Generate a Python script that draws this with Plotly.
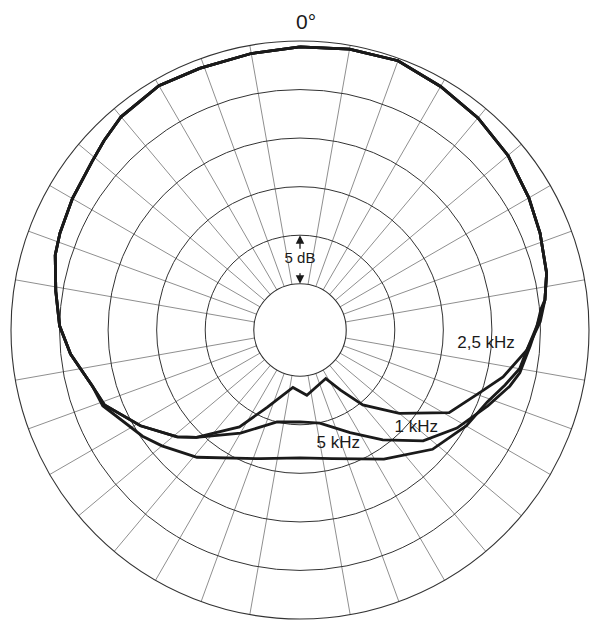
import plotly.graph_objects as go

# Polar response of the microphone.
# Angles in degrees (0 = front, clockwise), levels in dB relative to the outer ring.

# front half is the same for all three frequencies
FRONT_RIGHT_ANGLES = [0, 10, 20, 30, 40, 50, 60, 68, 77, 83]
FRONT_RIGHT_DB = [-0.6, -0.4, -0.25, -0.8, -1.25, -1.8, -2.55, -3.1, -3.7, -4.35]

FRONT_LEFT_ANGLES = [255, 264, 271, 279, 287, 292, 300, 309, 314, 320, 330, 339, 350, 360]
FRONT_LEFT_DB = [-7.6, -6.0, -5.0, -4.3, -3.4, -3.1, -2.7, -2.2, -1.7, -1.1, -0.7, -0.9, -0.85, -0.6]

# rear half, one per frequency
REAR_1K_ANGLES = [88, 94, 101, 105, 112, 122, 132, 143, 154, 168, 180, 194, 210, 224, 229, 239, 249]
REAR_1K_DB = [-5.2, -6.0, -6.7, -7.4, -8.9, -10.7, -12.7, -15.6, -18.0, -19.95, -20.3, -20.0,
              -17.5, -14.4, -13.0, -10.6, -8.2]

REAR_2K5_ANGLES = [88, 95, 103, 109, 119, 130, 140, 146, 152, 174, 187, 203, 212, 224, 229, 239, 249]
REAR_2K5_DB = [-5.0, -6.3, -8.3, -10.1, -12.2, -16.4, -19.7, -22.3, -24.1, -23.0, -23.8, -21.1,
               -18.0, -14.4, -13.0, -10.6, -8.2]

REAR_5K_ANGLES = [85, 89, 95, 100, 105, 111, 120, 132, 147, 166, 180, 197, 219, 230, 236, 249]
REAR_5K_DB = [-4.85, -5.35, -6.3, -6.8, -7.9, -9.1, -10.0, -11.4, -13.9, -16.1, -16.6, -15.9,
              -12.9, -11.2, -10.2, -8.0]

# curve labels placed in the chart's own polar coordinates
LABEL_TEXT = ['2,5 kHz', '1 kHz', '5 kHz', '5 dB']
LABEL_ANGLES = [94.3, 130.1, 161.4, 0]
LABEL_DB = [-10.55, -14.1, -17.4, -22.5]
LABEL_SIZES = [17, 17, 17, 15]

DB_MIN = -25
DB_MAX = 0
DB_STEP = 5
HOLE = 0.16

FONT = 'Liberation Sans, Arial, sans-serif'


def full_curve(rear_angles: list, rear_db: list) -> tuple:
    """Join the shared front half with one rear half into a closed curve."""
    angles = FRONT_RIGHT_ANGLES + rear_angles + FRONT_LEFT_ANGLES
    levels = FRONT_RIGHT_DB + rear_db + FRONT_LEFT_DB
    return angles, levels


def paper_y(level: float) -> float:
    """Paper y of a level on the 0 degree spoke (the polar area is square)."""
    frac = HOLE + (1 - HOLE) * (level - DB_MIN) / (DB_MAX - DB_MIN)
    return 0.5 + 0.5 * frac


fig = go.Figure()

for name, ang, lev in [('1 kHz', REAR_1K_ANGLES, REAR_1K_DB),
                       ('2,5 kHz', REAR_2K5_ANGLES, REAR_2K5_DB),
                       ('5 kHz', REAR_5K_ANGLES, REAR_5K_DB)]:
    theta, r = full_curve(ang, lev)
    fig.add_trace(go.Scatterpolar(r=r, theta=theta, mode='lines', name=name,
                                  line=dict(color='#1a1a1a', width=2.8),
                                  subplot='polar2', hoverinfo='skip'))

fig.add_trace(go.Scatterpolar(r=LABEL_DB, theta=LABEL_ANGLES, mode='text', text=LABEL_TEXT,
                              textfont=dict(family=FONT, size=LABEL_SIZES, color='#1a1a1a'),
                              subplot='polar2', hoverinfo='skip'))

ring_vals = list(range(DB_MIN, DB_MAX, DB_STEP))
spokes = [a for a in range(0, 360, 10) if a % 90 != 0]

common_radial = dict(range=[DB_MIN, DB_MAX], showticklabels=False, ticks='', showline=False)
common_angular = dict(rotation=90, direction='clockwise', showticklabels=False, ticks='')

fig.update_layout(
    width=600, height=630,
    margin=dict(l=11, r=11, t=41, b=11),
    paper_bgcolor='white',
    showlegend=False,
    # bottom layer: the light cross through 0/90/180/270
    polar=dict(bgcolor='white', hole=HOLE,
               radialaxis=dict(showgrid=False, **common_radial),
               angularaxis=dict(tickmode='array', tickvals=[0, 90, 180, 270],
                                gridcolor='#c6c6c6', gridwidth=2, showline=False,
                                **common_angular)),
    # top layer: 10 degree spokes, 5 dB rings and the curves
    polar2=dict(bgcolor='rgba(0,0,0,0)', hole=HOLE,
                radialaxis=dict(tickmode='array', tickvals=ring_vals, gridcolor='#333333',
                                gridwidth=1.1, **common_radial),
                angularaxis=dict(tickmode='array', tickvals=spokes, gridcolor='#8f8f8f',
                                 gridwidth=1, showline=True, linecolor='#333333',
                                 linewidth=1.1, **common_angular)),
    annotations=[
        dict(text='0°', x=0.5, y=1.0, xref='paper', yref='paper', xanchor='center',
             yanchor='bottom', xshift=6, yshift=6, showarrow=False,
             font=dict(family=FONT, size=21, color='#1a1a1a')),
        # arrows of the 5 dB scale mark
        dict(text='', x=0.5, y=paper_y(DB_MIN + DB_STEP), xref='paper', yref='paper',
             showarrow=True, ax=0, ay=15, arrowhead=2, arrowsize=1.3, arrowwidth=1.3,
             arrowcolor='#1a1a1a', standoff=0),
        dict(text='', x=0.5, y=paper_y(DB_MIN), xref='paper', yref='paper',
             showarrow=True, ax=0, ay=-12, arrowhead=2, arrowsize=1.3, arrowwidth=1.3,
             arrowcolor='#1a1a1a', standoff=0),
    ],
)

# the page's default body margin would push the 600x630 figure off by 8 px
fig.write_html('out.html', config={'displayModeBar': False},
               post_script="document.body.style.margin='0';")
